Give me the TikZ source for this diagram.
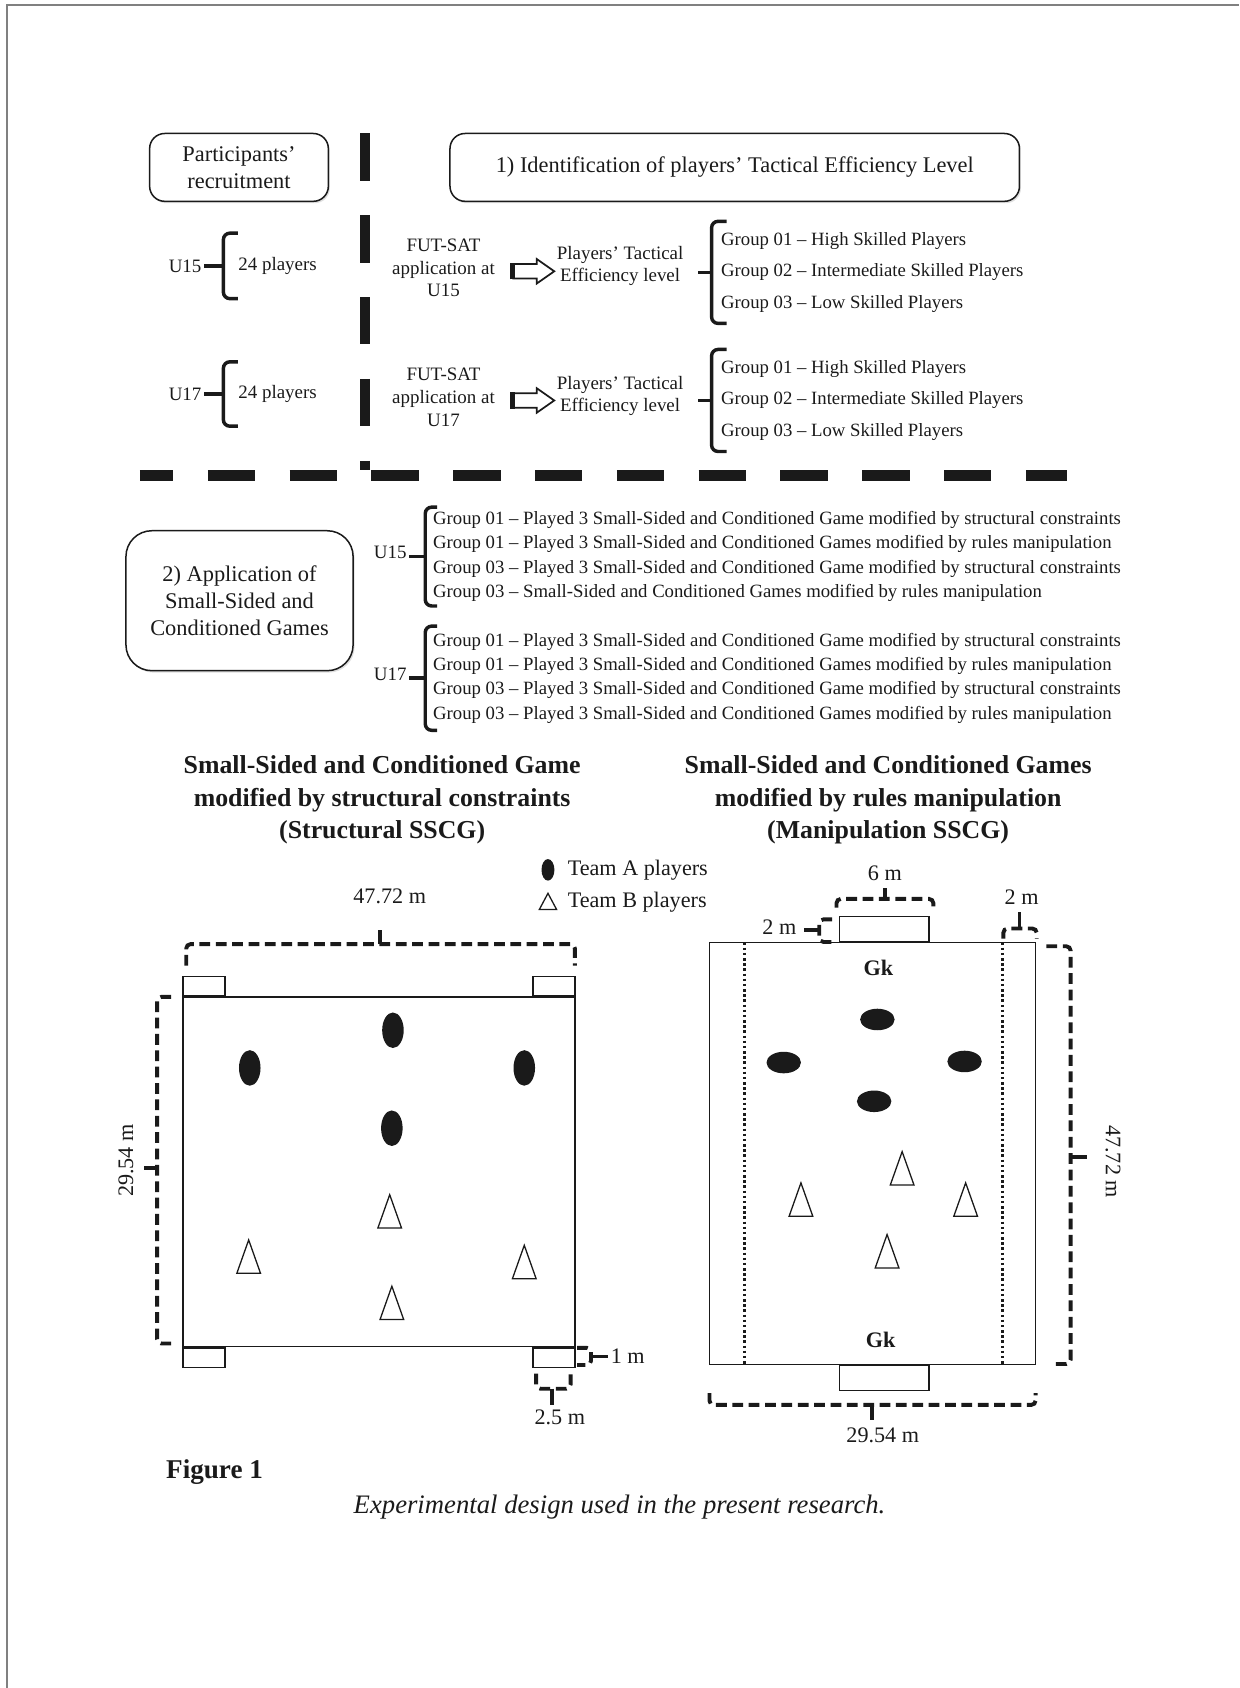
\documentclass[tikz,border=0pt]{standalone}
\usepackage{fontspec}
\setmainfont{Liberation Serif}
\usetikzlibrary{positioning,shapes.geometric,shapes.arrows,shadows}
\definecolor{ink}{HTML}{1A1A1A}
\tikzset{
  sbox/.style={draw, rounded corners=7pt, line width=0.7pt, align=center, inner sep=0pt, fill=white, drop shadow={shadow xshift=0.7pt, shadow yshift=-0.9pt, opacity=0.25}, font=\fontsize{10.4}{12.5}\selectfont},
  stext/.style={align=center, inner sep=1pt, font=\fontsize{8.8}{10.5}\selectfont},
  slist/.style={align=left, inner ysep=0pt, font=\fontsize{8.7}{14.6}\selectfont},
  slistb/.style={align=left, inner ysep=0pt, font=\fontsize{8.7}{11.3}\selectfont},
  shead/.style={align=center, inner sep=0pt, font=\bfseries\fontsize{12}{15}\selectfont},
  sdim/.style={inner sep=1pt, font=\fontsize{10.3}{12}\selectfont},
  sgk/.style={inner sep=1pt, font=\bfseries\fontsize{10.3}{12}\selectfont},
  sbrace/.style={line width=1.6pt, rounded corners=3pt},
  sbar/.style={line width=5pt, dash pattern=on 22pt off 16pt},
  smeasure/.style={line width=1.8pt, dash pattern=on 5pt off 2.6pt, rounded corners=2pt},
  stick/.style={line width=1.8pt},
  sdots/.style={line width=1.3pt, dash pattern=on 1.2pt off 1.2pt},
  sfield/.style={draw, line width=0.6pt, inner sep=0pt, fill=white},
  steamA/.style={ellipse, fill=ink, inner sep=0pt},
  steamB/.style={draw, isosceles triangle, isosceles triangle stretches, rotate=90, line width=0.6pt, fill=white, inner sep=0pt},
  sflow/.style={draw, single arrow, line width=0.8pt, inner xsep=0pt, inner ysep=3pt, fill=white, minimum height=19pt, single arrow head extend=2.3pt, single arrow tip angle=70},
  pageedge/.style={draw=gray, line width=0.8pt}
}
\begin{document}
\begin{tikzpicture}[x=0.5pt, y=-0.5pt, color=ink]
\useasboundingbox (0,0) rectangle (1151,1568);
\draw[pageedge] (6.5,1568) -- (6.5,4.5) -- (1151,4.5);

\node[sbox, minimum width=83pt, minimum height=31.5pt] (recruit) at (222,155.5) {Participants’\\recruitment};
\node[sbox, minimum width=264.5pt, minimum height=31.5pt] (identify) at (682.5,155.5) {1) Identification of players’ Tactical Efficiency Level};
\draw[sbar] (339,124) -- (339,437);
\draw[sbar, dash phase=6.5pt] (130,442) -- (991,442);

\node[stext, anchor=west, inner xsep=6.75pt, inner ysep=0pt, minimum height=30pt] (n15) at (207.5,247) {24 players};
\node[stext, left=9pt of n15.west] (u15) {U15};
\draw[sbrace] ([xshift=6.75pt]n15.north west) -| (n15.west) |- ([xshift=6.75pt]n15.south west);
\draw[sbrace] (u15) -- (n15.west);
\node[stext] (fut15) at (412,249) {FUT-SAT\\application at\\U15};
\node[sflow] (arr15) at (491,252) {};
\draw[line width=2pt] (arr15.before tail) -- (arr15.after tail);
\node[stext] (tac15) at (576,247) {Players’ Tactical\\Efficiency level};
\node[slist, anchor=west, inner xsep=4.25pt, minimum height=47pt] (grp15) at (661,253) {Group 01 -- High Skilled Players\\Group 02 -- Intermediate Skilled Players\\Group 03 -- Low Skilled Players};
\draw[sbrace] ([xshift=7pt]grp15.north west) -| (grp15.west) |- ([xshift=7pt]grp15.south west);
\draw[sbrace] (grp15.west) -- ([xshift=-6.5pt]grp15.west);

\node[stext, anchor=west, inner xsep=6.75pt, inner ysep=0pt, minimum height=29.5pt] (n17) at (207.5,366) {24 players};
\node[stext, left=9pt of n17.west] (u17) {U17};
\draw[sbrace] ([xshift=6.75pt]n17.north west) -| (n17.west) |- ([xshift=6.75pt]n17.south west);
\draw[sbrace] (u17) -- (n17.west);
\node[stext] (fut17) at (412,369) {FUT-SAT\\application at\\U17};
\node[sflow] (arr17) at (491,372) {};
\draw[line width=2pt] (arr17.before tail) -- (arr17.after tail);
\node[stext] (tac17) at (576,368) {Players’ Tactical\\Efficiency level};
\node[slist, anchor=west, inner xsep=4.25pt, minimum height=47pt] (grp17) at (661,372) {Group 01 -- High Skilled Players\\Group 02 -- Intermediate Skilled Players\\Group 03 -- Low Skilled Players};
\draw[sbrace] ([xshift=7pt]grp17.north west) -| (grp17.west) |- ([xshift=7pt]grp17.south west);
\draw[sbrace] (grp17.west) -- ([xshift=-6.5pt]grp17.west);

\node[sbox, rounded corners=12pt, minimum width=105.5pt, minimum height=65pt] (apply) at (222.5,558) {2) Application of\\Small-Sided and\\Conditioned Games};
\node[slistb, anchor=west, inner xsep=3.5pt, minimum height=45.5pt] (play15) at (395,517) {Group 01 -- Played 3 Small-Sided and Conditioned Game modified by structural constraints\\Group 01 -- Played 3 Small-Sided and Conditioned Games modified by rules manipulation\\Group 03 -- Played 3 Small-Sided and Conditioned Game modified by structural constraints\\Group 03 -- Small-Sided and Conditioned Games modified by rules manipulation};
\draw[sbrace] ([xshift=5.5pt]play15.north west) -| (play15.west) |- ([xshift=5.5pt]play15.south west);
\draw[sbrace] (play15.west) -- ([xshift=-7.5pt]play15.west);
\node[stext, left=7.5pt of play15.west, yshift=2pt] (u15b) {U15};
\node[slistb, anchor=west, inner xsep=3.5pt, minimum height=48pt] (play17) at (395,630) {Group 01 -- Played 3 Small-Sided and Conditioned Game modified by structural constraints\\Group 01 -- Played 3 Small-Sided and Conditioned Games modified by rules manipulation\\Group 03 -- Played 3 Small-Sided and Conditioned Game modified by structural constraints\\Group 03 -- Played 3 Small-Sided and Conditioned Games modified by rules manipulation};
\draw[sbrace] ([xshift=5.5pt]play17.north west) -| (play17.west) |- ([xshift=5.5pt]play17.south west);
\draw[sbrace] (play17.west) -- ([xshift=-7.5pt]play17.west);
\node[stext, left=7.5pt of play17.west, yshift=2pt] (u17b) {U17};

\node[shead] (headL) at (355,743) {Small-Sided and Conditioned Game\\modified by structural constraints\\(Structural SSCG)};
\node[shead] (headR) at (825,743) {Small-Sided and Conditioned Games\\modified by rules manipulation\\(Manipulation SSCG)};
\node[steamA, minimum width=6pt, minimum height=10pt] (keyA) at (509,808) {};
\node[steamB, minimum width=8pt, minimum height=7.5pt] (keyB) at (509,840) {};
\node[sdim, anchor=west] (keyAtext) at (525,808) {Team A players};
\node[sdim, anchor=west] (keyBtext) at (525,838) {Team B players};

\node[sfield, minimum width=182pt, minimum height=162.5pt] (pitchL) at (352,1088.5) {};
\node[sfield, minimum width=19.5pt, minimum height=9pt, anchor=south west] (cornTL) at (pitchL.north west) {};
\node[sfield, minimum width=19.5pt, minimum height=9pt, anchor=south east] (cornTR) at (pitchL.north east) {};
\node[sfield, minimum width=19.5pt, minimum height=9pt, anchor=north west] (cornBL) at (pitchL.south west) {};
\node[sfield, minimum width=19.5pt, minimum height=9pt, anchor=north east] (cornBR) at (pitchL.south east) {};
\node[steamA, minimum width=10pt, minimum height=16.5pt] (a1) at (365,957) {};
\node[steamA, minimum width=10pt, minimum height=16.5pt] (a2) at (232,992) {};
\node[steamA, minimum width=10pt, minimum height=16.5pt] (a3) at (487,992) {};
\node[steamA, minimum width=10pt, minimum height=16.5pt] (a4) at (364,1048) {};
\node[steamB, minimum width=11pt, minimum height=15.5pt] (b1) at (362,1133) {};
\node[steamB, minimum width=11pt, minimum height=15.5pt] (b2) at (231,1175) {};
\node[steamB, minimum width=11pt, minimum height=15.5pt] (b3) at (487,1180) {};
\node[steamB, minimum width=11pt, minimum height=15.5pt] (b4) at (364,1218) {};

\node[sdim] (lenL) at (362,833) {47.72 m};
\draw[smeasure] (173,897) -- (173,877) -- (534,877) -- (534,897);
\draw[stick] (353,877) -- (353,864);
\node[sdim, rotate=90] (widL) at (117,1078) {29.54 m};
\draw[smeasure] (159,926) -- (146,926) -- (146,1248) -- (159,1248);
\draw[stick] (146,1085) -- (134,1085);
\node[sdim, anchor=west] (cornH) at (565,1260) {1 m};
\draw[smeasure] (536,1252) -- (549,1252) -- (549,1268) -- (536,1268);
\draw[stick] (549,1260) -- (565,1260);
\node[sdim] (cornW) at (520,1317) {2.5 m};
\draw[smeasure] (498,1276) -- (498,1290) -- (530,1290) -- (530,1276);
\draw[stick] (513,1290) -- (513,1305);

\node[sfield, minimum width=151.5pt, minimum height=196pt] (pitchR) at (810.5,1071.5) {};
\draw[sdots] (691.5,875.5) -- (691.5,1267.5);
\draw[sdots] (931,875.5) -- (931,1267.5);
\node[sfield, minimum width=41.75pt, minimum height=11.75pt, anchor=south] (goalT) at (821.25,875.5) {};
\node[sfield, minimum width=41.75pt, minimum height=11.75pt, anchor=north] (goalB) at (821.25,1267.5) {};
\node[sgk] (gkT) at (816,899) {Gk};
\node[sgk] (gkB) at (818,1245) {Gk};
\node[steamA, minimum width=16pt, minimum height=10pt] (ra1) at (815,947) {};
\node[steamA, minimum width=16pt, minimum height=10pt] (ra2) at (728,987) {};
\node[steamA, minimum width=16pt, minimum height=10pt] (ra3) at (896,986) {};
\node[steamA, minimum width=16pt, minimum height=10pt] (ra4) at (812,1023) {};
\node[steamB, minimum width=11pt, minimum height=15.5pt] (rb1) at (838,1093) {};
\node[steamB, minimum width=11pt, minimum height=15.5pt] (rb2) at (744,1122) {};
\node[steamB, minimum width=11pt, minimum height=15.5pt] (rb3) at (897,1122) {};
\node[steamB, minimum width=11pt, minimum height=15.5pt] (rb4) at (824,1170) {};

\node[sdim] (goalW) at (822,811) {6 m};
\draw[smeasure] (777,843) -- (777,835) -- (867,835) -- (867,843);
\draw[stick] (822,835) -- (822,825);
\node[sdim] (goalD) at (724,861) {2 m};
\draw[smeasure] (773,854) -- (761,854) -- (761,875) -- (774,875);
\draw[stick] (747,864) -- (761,864);
\node[sdim] (laneW) at (949,833) {2 m};
\draw[smeasure] (932,872) -- (932,862.5) -- (963,862.5) -- (963,872);
\draw[stick] (947,862.5) -- (947,847);
\node[sdim, rotate=-90] (lenR) at (1034,1079) {47.72 m};
\draw[smeasure] (972,879) -- (994.5,879) -- (994.5,1267) -- (978,1267);
\draw[stick] (994.5,1075) -- (1010,1075);
\node[sdim] (widR) at (820,1333) {29.54 m};
\draw[smeasure] (659,1294) -- (659,1305) -- (962,1305) -- (962,1294);
\draw[stick] (810,1305) -- (810,1319);

\node[anchor=west, inner sep=0pt, font=\bfseries\fontsize{12.6}{14}\selectfont] (figlabel) at (154,1367) {Figure 1};
\node[inner sep=0pt, font=\itshape\fontsize{12.4}{14}\selectfont] (figcaption) at (575.5,1400) {Experimental design used in the present research.};
\end{tikzpicture}
\end{document}
